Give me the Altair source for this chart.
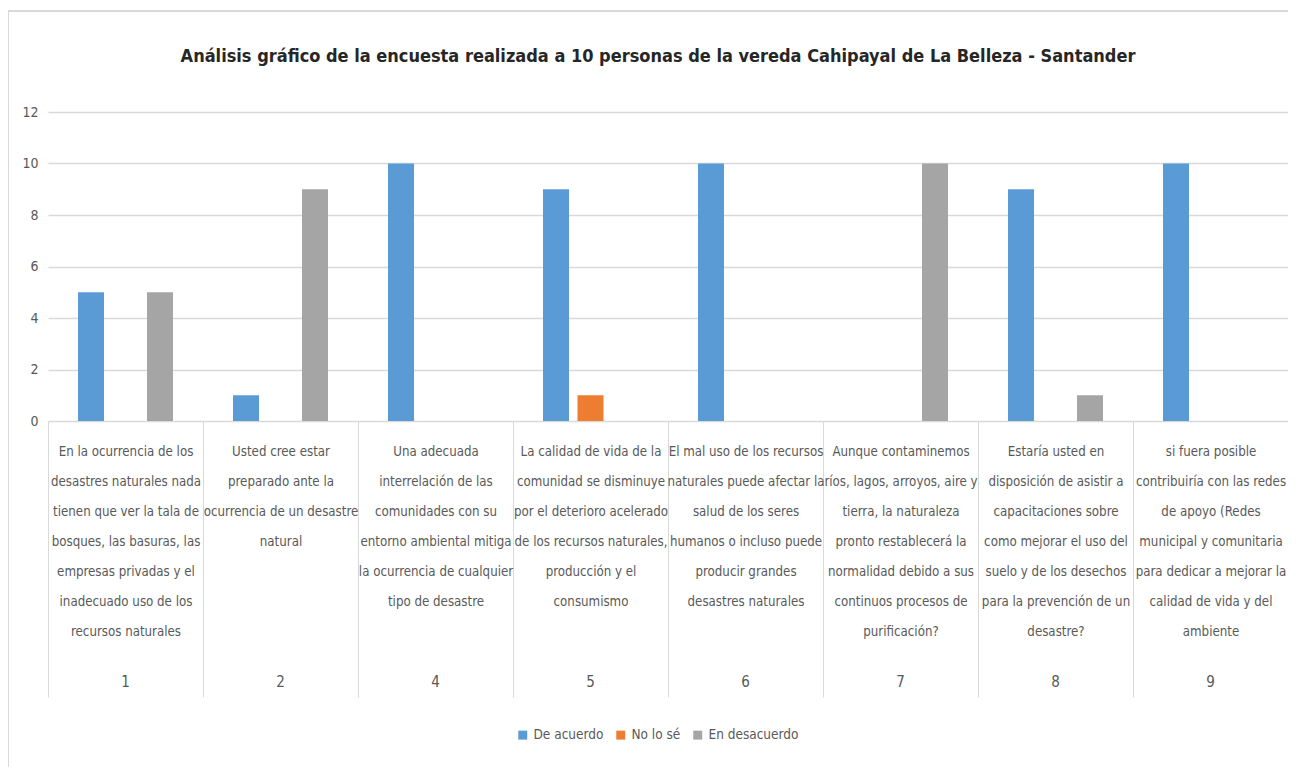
import altair as alt
import pandas as pd

# ---- data ----
question_numbers = ["1", "2", "4", "5", "6", "7", "8", "9"]
question_lines = [
    ["En la ocurrencia de los", "desastres naturales nada", "tienen que ver la tala de",
     "bosques, las basuras, las", "empresas privadas y el", "inadecuado uso de los",
     "recursos naturales"],
    ["Usted cree estar", "preparado ante la", "ocurrencia de un desastre", "natural"],
    ["Una adecuada", "interrelación de las", "comunidades con su",
     "entorno ambiental mitiga", "la ocurrencia de cualquier", "tipo de desastre"],
    ["La calidad de vida de la", "comunidad se disminuye", "por el deterioro acelerado",
     "de los recursos naturales,", "producción y el", "consumismo"],
    ["El mal uso de los recursos", "naturales puede afectar la", "salud de los seres",
     "humanos o incluso puede", "producir grandes", "desastres naturales"],
    ["Aunque contaminemos", "ríos, lagos, arroyos, aire y", "tierra, la naturaleza",
     "pronto restablecerá la", "normalidad debido a sus", "continuos procesos de",
     "purificación?"],
    ["Estaría usted en", "disposición de asistir a", "capacitaciones sobre",
     "como mejorar el uso del", "suelo y de los desechos", "para la prevención de un",
     "desastre?"],
    ["si fuera posible", "contribuiría con las redes", "de apoyo (Redes",
     "municipal y comunitaria", "para dedicar a mejorar la", "calidad de vida y del",
     "ambiente"],
]
series_names = ["De acuerdo", "No lo sé", "En desacuerdo"]
de_acuerdo = [5, 1, 10, 9, 10, 0, 9, 10]
no_lo_se = [0, 0, 0, 1, 0, 0, 0, 0]
en_desacuerdo = [5, 9, 0, 0, 0, 10, 1, 0]
series_colors = ["#5B9BD5", "#ED7D31", "#A5A5A5"]

title_text = "Análisis gráfico de la encuesta realizada a 10 personas de la vereda Cahipayal de La Belleza - Santander"

# ---- table ----
cat_keys = ["|".join(lines) for lines in question_lines]
rows = []
for key, num, a, b, c in zip(cat_keys, question_numbers, de_acuerdo, no_lo_se, en_desacuerdo):
    for name, val in zip(series_names, (a, b, c)):
        rows.append({"pregunta": key, "numero": num, "respuesta": name, "valor": val})
df = pd.DataFrame(rows)
df_num = pd.DataFrame({"pregunta": cat_keys, "numero": question_numbers})

FONT = "Liberation Sans Narrow, DejaVu Sans Condensed, Roboto, sans-serif"
GRAY_TXT = "#595959"
LINE = "#d9d9d9"

W, H = 1240, 309

x_scale = alt.Scale(paddingInner=0, paddingOuter=0)

bars = alt.Chart(df).mark_bar().encode(
    x=alt.X("pregunta:N", sort=cat_keys, scale=x_scale, title=None,
            axis=alt.Axis(
                labelExpr="split(datum.label, '|')",
                labelAngle=0, labelAlign="center", labelBaseline="top",
                labelPadding=-252, labelLineHeight=30, labelFontSize=13.2,
                labelColor=GRAY_TXT, labelFont=FONT, labelLimit=0,
                tickBand="extent", tickSize=276, tickColor=LINE, tickWidth=1,
                domainColor=LINE, labelOverlap=False, grid=False)),
    xOffset=alt.XOffset("respuesta:N", sort=series_names,
                        scale=alt.Scale(paddingInner=0.246, paddingOuter=0.87)),
    y=alt.Y("valor:Q", scale=alt.Scale(domain=[0, 12]), title=None,
            axis=alt.Axis(values=[0, 2, 4, 6, 8, 10, 12], domain=False, ticks=False,
                          labelColor=GRAY_TXT, labelFont=FONT, labelFontSize=14,
                          labelPadding=10, gridColor=LINE, gridWidth=1.5)),
    color=alt.Color("respuesta:N", sort=series_names,
                    scale=alt.Scale(domain=series_names, range=series_colors),
                    legend=alt.Legend(title=None, orient="none", direction="horizontal",
                                      legendX=468, legendY=616,
                                      symbolType="square", symbolSize=80,
                                      labelFont=FONT, labelFontSize=13.5,
                                      labelColor=GRAY_TXT, columnPadding=10,
                                      symbolStrokeWidth=0)),
)

numbers = alt.Chart(df_num).mark_text(
    font=FONT, fontSize=15, color=GRAY_TXT, baseline="middle", align="center"
).encode(
    x=alt.X("pregunta:N", sort=cat_keys),
    y=alt.value(H + 261),
    text="numero:N",
)

frame = alt.Chart(pd.DataFrame({"a": [0]})).mark_rect(
    fill=None, stroke=LINE, strokeWidth=2
).encode(
    x=alt.value(-40), x2=alt.value(1260),
    y=alt.value(-101), y2=alt.value(700),
)

chart = alt.layer(frame, bars, numbers).properties(
    width=W, height=H,
    autosize=alt.AutoSizeParams(type="none"),
    padding={"left": 40, "top": 104, "right": 0, "bottom": 346},
    background="white",
    title=alt.TitleParams(title_text, anchor="middle", frame="group", fontSize=18,
                          font=FONT, fontWeight="bold", color="#262626", offset=-56,
                          dx=-10),
).configure_view(stroke="transparent", strokeWidth=0)

chart.save("out.html", embed_options={"renderer": "svg", "actions": False})
